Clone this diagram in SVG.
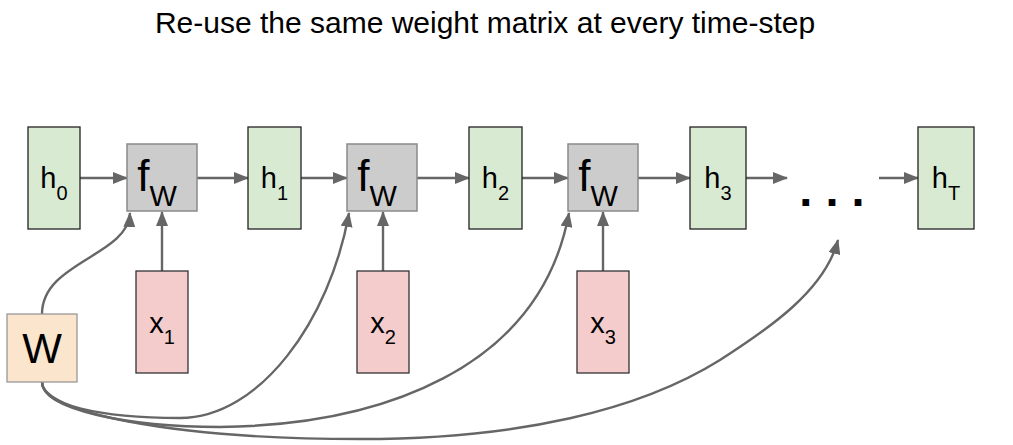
<svg xmlns="http://www.w3.org/2000/svg" width="1013" height="445" viewBox="0 0 1013 445">
<defs>
<style>
text{font-family:"Liberation Sans",Arial,sans-serif;fill:#000}
.h{fill:#d9ead3;stroke:#222;stroke-width:1.3}
.f{fill:#cccccc;stroke:#8a8a8a;stroke-width:1.5}
.x{fill:#f4cccc;stroke:#333;stroke-width:1.3}
.w{fill:#fce5cd;stroke:#999;stroke-width:1.3}
.c{fill:none;stroke:#666;stroke-width:2.4}
.lbl{font-size:29px}
.sub{font-size:20px}
.fl{font-size:44px}
.fs{font-size:29px}
</style>
<marker id="ah" markerUnits="userSpaceOnUse" markerWidth="15" markerHeight="12" refX="14" refY="6" orient="auto">
<path d="M0,0 L15,6 L0,12 Z" fill="#666"/>
</marker>
</defs>
<rect width="1013" height="445" fill="#fff"/>
<text x="485" y="33" text-anchor="middle" font-size="30">Re-use the same weight matrix at every time-step</text>

<g id="connectors">
<line class="c" x1="80" y1="178" x2="127" y2="178" marker-end="url(#ah)"/>
<line class="c" x1="197" y1="178" x2="248" y2="178" marker-end="url(#ah)"/>
<line class="c" x1="301" y1="178" x2="347" y2="178" marker-end="url(#ah)"/>
<line class="c" x1="417" y1="178" x2="469" y2="178" marker-end="url(#ah)"/>
<line class="c" x1="522" y1="178" x2="568" y2="178" marker-end="url(#ah)"/>
<line class="c" x1="638" y1="178" x2="690" y2="178" marker-end="url(#ah)"/>
<line class="c" x1="746" y1="178" x2="787" y2="178" marker-end="url(#ah)"/>
<line class="c" x1="879" y1="178" x2="918" y2="178" marker-end="url(#ah)"/>
<line class="c" x1="162" y1="271" x2="162" y2="212" marker-end="url(#ah)"/>
<line class="c" x1="383" y1="271" x2="383" y2="212" marker-end="url(#ah)"/>
<line class="c" x1="603" y1="271" x2="603" y2="212" marker-end="url(#ah)"/>
<path class="c" d="M42,314 C42,262 128,256 130,213" marker-end="url(#ah)"/>
<path class="c" d="M42,382 C42,405 100,418 180,418 C260,418 330,320 349,213" marker-end="url(#ah)"/>
<path class="c" d="M42,382 C42,410 130,427 220,427 C380,425 540,370 569,213" marker-end="url(#ah)"/>
<path class="c" d="M42,382 C42,412 170,439 360,439 C520,439 640,410 720,360 C770,328 825,290 838,240" marker-end="url(#ah)"/>
</g>

<g id="h0"><rect class="h" x="28" y="127" width="52" height="102"/><text class="lbl" x="54" y="188" text-anchor="middle">h<tspan class="sub" dy="12">0</tspan></text></g>
<g id="f1"><rect class="f" x="127" y="144" width="70" height="67"/><text class="fl" x="157" y="191" text-anchor="middle">f<tspan class="fs" dy="15">W</tspan></text></g>
<g id="h1"><rect class="h" x="248" y="127" width="53" height="102"/><text class="lbl" x="274.5" y="188" text-anchor="middle">h<tspan class="sub" dy="12">1</tspan></text></g>
<g id="f2"><rect class="f" x="347" y="144" width="70" height="67"/><text class="fl" x="377" y="191" text-anchor="middle">f<tspan class="fs" dy="15">W</tspan></text></g>
<g id="h2"><rect class="h" x="469" y="127" width="53" height="102"/><text class="lbl" x="495.5" y="188" text-anchor="middle">h<tspan class="sub" dy="12">2</tspan></text></g>
<g id="f3"><rect class="f" x="568" y="144" width="70" height="67"/><text class="fl" x="598" y="191" text-anchor="middle">f<tspan class="fs" dy="15">W</tspan></text></g>
<g id="h3"><rect class="h" x="690" y="127" width="56" height="102"/><text class="lbl" x="718" y="188" text-anchor="middle">h<tspan class="sub" dy="12">3</tspan></text></g>
<g id="ellipsis"><text x="832" y="206" text-anchor="middle" font-size="47" font-weight="bold">. . .</text></g>
<g id="hT"><rect class="h" x="918" y="127" width="56" height="102"/><text class="lbl" x="946" y="188" text-anchor="middle">h<tspan class="sub" dy="12">T</tspan></text></g>

<g id="x1"><rect class="x" x="136" y="271" width="52" height="102"/><text class="lbl" x="162" y="333" text-anchor="middle">x<tspan class="sub" dy="11">1</tspan></text></g>
<g id="x2"><rect class="x" x="357" y="271" width="52" height="102"/><text class="lbl" x="383" y="333" text-anchor="middle">x<tspan class="sub" dy="11">2</tspan></text></g>
<g id="x3"><rect class="x" x="577" y="271" width="52" height="102"/><text class="lbl" x="603" y="333" text-anchor="middle">x<tspan class="sub" dy="11">3</tspan></text></g>
<g id="W"><rect class="w" x="7" y="314" width="70" height="68"/><text x="42" y="363" text-anchor="middle" font-size="42">W</text></g>
</svg>
